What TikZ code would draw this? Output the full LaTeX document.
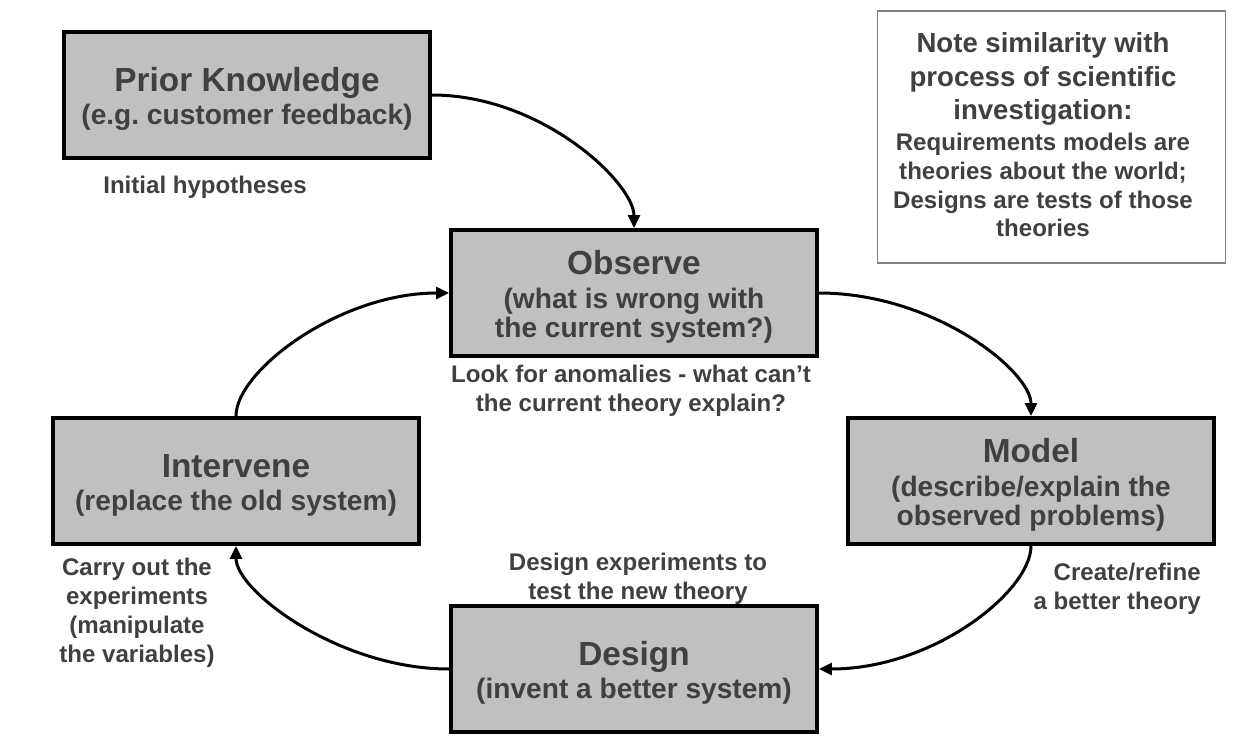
\documentclass[tikz,border=0pt]{standalone}
\usepackage{fontspec}
\setmainfont{Liberation Sans}
\usepackage{tikz}
\usetikzlibrary{arrows.meta}
\frenchspacing
\definecolor{inkgray}{HTML}{404040}
\definecolor{boxgray}{HTML}{C0C0C0}
\definecolor{framegray}{HTML}{808080}
\tikzset{
	stagebox/.style={draw=black, line width=0.08cm, fill=boxgray, minimum width=7.32cm, minimum height=2.52cm, align=center, text=inkgray, font=\bfseries\fontsize{16}{16.5}\selectfont},
	gloss/.style={align=center, text=inkgray, font=\bfseries\fontsize{13.7}{16.5}\selectfont},
	notehead/.style={align=center, text=inkgray, font=\bfseries\fontsize{15.7}{18.9}\selectfont},
	flow/.style={line width=0.06cm, -{Triangle[length=0.26cm, width=0.24cm]}}
}
\def\stagetitle#1{{\fontsize{19}{19}\selectfont\rule{0pt}{18pt}#1}\\[2.6pt]}
\begin{document}
\begin{tikzpicture}[x=0.02cm, y=-0.02cm]
			%%%%% START %%%%%
			\useasboundingbox (0, 0) rectangle (1249, 754);
			
			\node[stagebox] (prior) at (247, 95) {\stagetitle{Prior Knowledge}(e.g. customer feedback)};
			\node[stagebox] (observe) at (634, 293) {\stagetitle{Observe}(what is wrong with\\the current system?)};
			\node[stagebox] (model) at (1031, 481) {\stagetitle{Model}(describe/explain the\\observed problems)};
			\node[stagebox] (design) at (634, 669) {\stagetitle{Design}(invent a better system)};
			\node[stagebox] (intervene) at (236, 481) {\stagetitle{Intervene}(replace the old system)};
			
			\node[gloss] (hypo) at (205, 187) {Initial hypotheses};
			\node[gloss] (anomaly) at (631, 391) {Look for anomalies - what can’t\\the current theory explain?};
			\node[gloss, align=right, anchor=east] (refine) at (1207, 589) {Create/refine\\a better theory};
			\node[gloss] (experiment) at (638, 579) {Design experiments to\\test the new theory};
			\node[gloss] (carry) at (137, 613) {Carry out the\\experiments\\(manipulate\\the variables)};
			
			\node[draw=framegray, line width=0.03cm, minimum width=6.96cm, minimum height=5.04cm] (note) at (1051.5, 137) {};
			\node[notehead] (notetop) at (1043, 79) {Note similarity with\\process of scientific\\investigation:};
			\node[gloss, font=\bfseries\fontsize{13.7}{16.4}\selectfont] (notebody) at (1043, 185) {Requirements models are\\theories about the world;\\Designs are tests of those\\theories};
			
			\draw[flow] (prior.east) .. controls +(110, 0) and +(0, -45) .. (observe.north);
			\draw[flow] (observe.east) .. controls +(115, 0) and +(0, -45) .. (model.north);
			\draw[flow] (model.south) .. controls +(0, 45) and +(115, 0) .. (design.east);
			\draw[flow] (design.west) .. controls +(-110, 0) and +(0, 45) .. (intervene.south);
			\draw[flow] (intervene.north) .. controls +(0, -45) and +(-110, 0) .. (observe.west);
			
			%%%%% END %%%%%
		\end{tikzpicture}
\end{document}
